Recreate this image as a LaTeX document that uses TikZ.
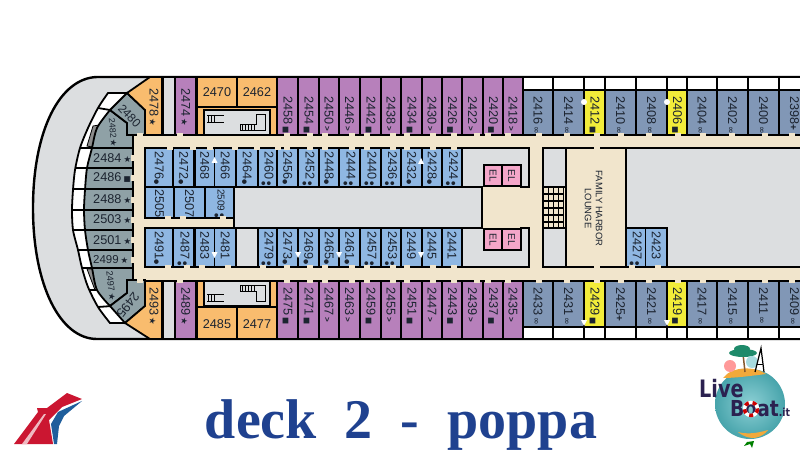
\documentclass[tikz,border=0pt]{standalone}
\usepackage{fontspec}
\setmainfont{Liberation Sans}
\newfontfamily\titlef{Liberation Serif}
\newfontfamily\symf{DejaVu Sans}
\newfontfamily\logof{DejaVu Sans}
\definecolor{ink}{HTML}{1C2430}
\definecolor{purp}{HTML}{B780BB}
\definecolor{orng}{HTML}{F9BC6E}
\definecolor{blu}{HTML}{8FB7E2}
\definecolor{slat}{HTML}{8197B6}
\definecolor{cgrey}{HTML}{8FA1A6}
\definecolor{yel}{HTML}{F2EC3A}
\definecolor{bge}{HTML}{F1E5CC}
\definecolor{gry}{HTML}{DCDEE0}
\definecolor{pnk}{HTML}{F4A6C9}
\definecolor{ttl}{HTML}{1F418F}
\newcommand\sS{\,{\symf\fontsize{8.5}{8.5}\selectfont ★}}
\newcommand\sB{\,{\symf\fontsize{7.5}{7.5}\selectfont ■}}
\newcommand\sD{{\symf\fontsize{6}{6}\selectfont ●}}
\newcommand\sDD{\,{\symf\fontsize{5}{5}\selectfont\rlap{\raisebox{3pt}{●}}\raisebox{-2.4pt}{●}}}
\newcommand\sI{\,{\symf\fontsize{9}{9}\selectfont ∞}}
\newcommand\sV{\,{\bfseries\fontsize{8}{8}\selectfont >}}
\newcommand\sP{{\bfseries\fontsize{10}{10}\selectfont +}}
\newcommand\sN{}
\tikzset{
  x=1pt,y=-1pt,
  wall/.style={draw=black,line width=1.8pt,line join=miter},
  thick wall/.style={draw=black,line width=2.4pt},
  vnum/.style={text=ink,inner sep=0pt,anchor=west,rotate=-90,font=\fontsize{12.7}{12.7}\selectfont},
  hnum/.style={text=ink,inner sep=0pt,font=\fontsize{12.7}{12.7}\selectfont},
  doorway/.style={fill=bge,draw=none,minimum width=6pt,minimum height=3.4pt,inner sep=0pt},
  sidedoor/.style={fill=bge,draw=none,minimum width=3.4pt,minimum height=6pt,inner sep=0pt},
  elbox/.style={wall,fill=pnk,text=ink,font=\fontsize{10}{10}\selectfont},
  stairline/.style={draw=black,line width=0.8pt}
}
\newcommand\cabin[8]{% x1 x2 y1 y2 fill ystart number symbol
  \path[wall,fill=#5] (#1,#3) rectangle (#2,#4);
  \node[vnum] (c#7) at ({(#1+#2)/2},#6) {#7#8};
}
\begin{document}
\begin{tikzpicture}
\useasboundingbox (0,0) rectangle (800,457);
\clip (0,0) rectangle (800,457);
\fill[white] (0,0) rectangle (800,457);
% hull
\path[thick wall,fill=gry] (810,77) -- (97,77) .. controls (60,78) and (33,130) .. (33,208) .. controls (33,285) and (60,339) .. (97,339) -- (810,339) -- cycle;
% deck base
\fill[bge] (133,135) rectangle (810,281);
% white balcony band
\path[wall,fill=white] (127,93) -- (108,93) -- plot[smooth] coordinates {(108,93)(98,108)(88,128)(80,148)(75,170)(73,190)(72,210)(73,230)(78,250)(82,268)(88,287)(98,307)(110,323)} -- (125,323) -- (127,300) -- cycle;
% hatched cells
\path[draw=black,line width=0.8pt,fill=black!45] (99,125) -- (93,126) -- (87,146) -- (92,147) -- cycle;
\path[draw=black,line width=0.8pt,fill=black!45] (87,269) -- (93,269) -- (100,289) -- (95,290) -- cycle;
% dividers in band
\foreach \ya/\xa/\xb in {148/80/92,168/75/87,189/73/85,210/72/84,230/73/85,250/78/87,268/82/92,290/89/97}{
  \draw[black,line width=1.8pt] (\xa,\ya) -- (\xb,\ya);
}
\draw[black,line width=1.8pt] (98,108) -- (110,110);
\draw[black,line width=1.8pt] (98,307) -- (112,306);
% grey stern cabins
\path[wall,fill=cgrey] plot[smooth] coordinates {(110,110)(97,128)(92,148)(87,168)(85,190)(84,210)(85,230)(88,250)(92,268)(97,290)(110,306)} -- (127,293) -- (127,280) -- (133,280) -- (133,135) -- (127,135) -- (127,123) -- cycle;
\foreach \ya/\xa in {148/92,168/87,189/85,210/84,230/85,250/88,268/92}{
  \draw[black,line width=1.8pt] (\xa,\ya) -- (133,\ya);
}
\path[wall,fill=cgrey] (127,93) -- (145,110) -- (145,135) -- (127,135) -- (127,123) -- (110,110) -- cycle;
\path[wall,fill=cgrey] (127,280) -- (145,280) -- (145,306) -- (125,323) -- (110,306) -- (127,293) -- cycle;
% orange corner cabins
\path[wall,fill=orng] (150,77) -- (162,77) -- (162,135) -- (145,135) -- (145,110) -- (127,93) -- cycle;
\path[wall,fill=orng] (145,281) -- (162,281) -- (162,339) -- (150,339) -- (125,323) -- (145,306) -- cycle;
\node[vnum] (c2478) at (154,88) {2478\sS};
\node[vnum] (c2493) at (154,287) {2493\sS};
% grey strips
\path[wall,fill=gry] (163,77) rectangle (175,135);
\path[wall,fill=gry] (163,281) rectangle (175,339);
% purple singles
\cabin{175.5}{196}{77}{135}{purp}{88}{2474}{\sS}
\cabin{175.5}{196}{281}{339}{purp}{287}{2489}{\sS}
% orange aft blocks
\path[wall,fill=orng] (197,77) rectangle (277,135);
\path[wall,fill=orng] (197,281) rectangle (277,339);
\draw[black,line width=1.8pt] (197,107) -- (277,107) (237,77) -- (237,107);
\draw[black,line width=1.8pt] (197,307) -- (277,307) (237,307) -- (237,339);
\node[hnum] (c2470) at (217,92) {2470};
\node[hnum] (c2462) at (257,92) {2462};
\node[hnum] (c2485) at (217,324) {2485};
\node[hnum] (c2477) at (257,324) {2477};
% stair rooms
\path[wall,fill=gry] (204,110) rectangle (270,135);
\path[wall,fill=gry] (204,281) rectangle (270,306);
\path[wall,fill=gry,line width=1pt] (256,115) -- (265,115) -- (265,131) -- (240,131) -- (240,125) -- (256,125) -- cycle;
\foreach \i in {242,245,...,254}{\draw[stairline,line width=.7pt] (\i,125) -- (\i,131);}
\path[stairline] (207,115) -- (224,115) (207,122) -- (224,122);
\foreach \i in {208,211,214}{\draw[stairline,line width=.7pt] (\i,115) -- (\i,122);}
\path[wall,fill=gry,line width=1pt] (256,301) -- (265,301) -- (265,285) -- (240,285) -- (240,291) -- (256,291) -- cycle;
\foreach \i in {242,245,...,254}{\draw[stairline,line width=.7pt] (\i,285) -- (\i,291);}
\path[stairline] (207,294) -- (224,294) (207,301) -- (224,301);
\foreach \i in {208,211,214}{\draw[stairline,line width=.7pt] (\i,294) -- (\i,301);}
% purple rows
\foreach \xa/\xb/\n/\s in {277/298/2458/\sB,298/319/2454/\sB,319/339/2450/\sV,339/360/2446/\sV,360/381/2442/\sB,381/401/2438/\sV,401/422/2434/\sB,422/442/2430/\sV,442/462/2426/\sB,462/483/2422/\sV,483/503/2420/\sB,503/523/2418/\sV}{
  \cabin{\xa}{\xb}{77}{135}{purp}{96}{\n}{\s}
}
\foreach \xa/\xb/\n/\s in {277/298/2475/\sB,298/319/2471/\sB,319/339/2467/\sV,339/360/2463/\sV,360/381/2459/\sB,381/401/2455/\sV,401/422/2451/\sB,422/442/2447/\sV,442/462/2443/\sB,462/483/2439/\sV,483/503/2437/\sB,503/523/2435/\sV}{
  \cabin{\xa}{\xb}{281}{339}{purp}{287}{\n}{\s}
}
% right rows
\foreach \xa/\xb in {523/553,553/584,584/605,605/636,636/667,667/687,687/717,717/748,748/779,779/810}{
  \path[wall,fill=white] (\xa,77) rectangle (\xb,90);
  \path[wall,fill=white] (\xa,327) rectangle (\xb,339);
}
\foreach \xa/\xb/\n/\s/\f in {523/553/2416/\sI/slat,553/584/2414/\sI/slat,584/605/2412/\sB/yel,605/636/2410/\sI/slat,636/667/2408/\sI/slat,667/687/2406/\sB/yel,687/717/2404/\sI/slat,717/748/2402/\sI/slat,748/779/2400/\sI/slat,779/810/2398/\sP/slat}{
  \cabin{\xa}{\xb}{90}{135}{\f}{96}{\n}{\s}
}
\foreach \xa/\xb/\n/\s/\f in {523/553/2433/\sI/slat,553/584/2431/\sI/slat,584/605/2429/\sB/yel,605/636/2425/\sP/slat,636/667/2421/\sI/slat,667/687/2419/\sB/yel,687/717/2417/\sI/slat,717/748/2415/\sI/slat,748/779/2411/\sI/slat,779/810/2409/\sI/slat}{
  \cabin{\xa}{\xb}{281}{327}{\f}{287}{\n}{\s}
}
% central lobby and grey voids
\path[wall,fill=gry] (234,187) rectangle (482,228);
\path[wall,fill=gry] (462,148) rectangle (529,187);
\path[wall,fill=gry] (462,228) rectangle (529,267);
\fill[bge] (483,187) rectangle (529,228);
\draw[black,line width=1.8pt] (529,148) -- (529,187) -- (520,187);
\draw[black,line width=1.8pt] (529,267) -- (529,228) -- (520,228);
\draw[black,line width=1.8pt] (482,187) -- (482,228);
\path[elbox] (484,165) rectangle (502,186);
\path[elbox] (502,165) rectangle (521,186);
\path[elbox] (484,229) rectangle (502,250);
\path[elbox] (502,229) rectangle (521,250);
\node[elbox,draw=none,rotate=-90,inner sep=0pt] (e1) at (493,175.5) {EL};
\node[elbox,draw=none,rotate=-90,inner sep=0pt] (e2) at (511.5,175.5) {EL};
\node[elbox,draw=none,rotate=-90,inner sep=0pt] (e3) at (493,239.5) {EL};
\node[elbox,draw=none,rotate=-90,inner sep=0pt] (e4) at (511.5,239.5) {EL};
% inner blue upper
\foreach \xa/\xb/\n/\s in {145/173/2476/\sD,173/194/2472/\sD,195/214.5/2468/\sN,214.5/236/2466/\sN,236/258/2464/\sD,258/277/2460/\sDD,277/298/2456/\sD,298/319/2452/\sDD,319/339/2448/\sD,339/360/2444/\sDD,360/381/2440/\sDD,381/401/2436/\sDD,401/422/2432/\sD,422/442/2428/\sD,442/462/2424/\sDD}{
  \cabin{\xa}{\xb}{148}{187}{blu}{151}{\n}{\s}
}
\foreach \xa/\xb/\n/\s in {145/174/2505/\sN,174/205/2507/\sN}{
  \cabin{\xa}{\xb}{187}{218}{blu}{189}{\n}{\s}
}
\path[wall,fill=blu] (205,187) rectangle (234,218);
\node[vnum,font=\fontsize{10}{10}\selectfont] (c2509) at (219.5,189) {2509\sDD};
\foreach \xa/\xb/\n/\s in {145/173/2491/\sD,173/194/2487/\sDD,195/214.5/2483/\sN,214.5/236/2481/\sN,258/277/2479/\sDD,277/298/2473/\sD,298/319/2469/\sD,319/339/2465/\sD,339/360/2461/\sD,360/381/2457/\sDD,381/401/2453/\sDD,401/422/2449/\sN,422/442/2445/\sN,442/462/2441/\sN}{
  \cabin{\xa}{\xb}{228}{267}{blu}{231}{\n}{\s}
}
\path[wall,fill=gry] (236,228) rectangle (258,267);
% right void
\path[wall,fill=gry] (626,148) -- (810,148) -- (810,267) -- (626,267) -- cycle;
\cabin{626}{645.5}{228}{267}{blu}{231}{2427}{\sDD}
\cabin{645.5}{667}{228}{267}{blu}{231}{2423}{\sN}
% service blocks, stairs, lounge
\path[wall,fill=gry] (543,148) rectangle (566,187);
\path[wall,fill=gry] (543,228) rectangle (566,267);
\path[wall,fill=bge] (566,148) rectangle (625.5,267);
\draw[black,line width=1.8pt] (543,187) -- (543,228);
\foreach \i in {548,553,558,563}{\draw[stairline] (\i,188) -- (\i,228);}
\foreach \i in {194,201,208,215,222}{\draw[stairline,line width=1.1pt] (543,\i) -- (564,\i);}
\node[text=ink,inner sep=0pt,rotate=-90,font=\fontsize{9.4}{9.4}\selectfont] (fam) at (599,208.5) {FAMILY HARBOR};
\node[text=ink,inner sep=0pt,rotate=-90,font=\fontsize{9.4}{9.4}\selectfont] (lng) at (588,208.5) {LOUNGE};
% stern labels
\node[hnum,anchor=west] (c2484) at (93,158) {2484\sS};
\node[hnum,anchor=west] (c2486) at (93,178) {2486\sB};
\node[hnum,anchor=west] (c2488) at (93,199) {2488\sS};
\node[hnum,anchor=west] (c2503) at (93,219) {2503\sS};
\node[hnum,anchor=west] (c2501) at (93,240) {2501\sS};
\node[hnum,anchor=west,font=\fontsize{11.5}{11.5}\selectfont] (c2499) at (93,259.5) {2499\sS};
\node[hnum,rotate=-47,font=\fontsize{12}{12}\selectfont] (c2480) at (129.5,116) {2480};
\node[hnum,rotate=-86,font=\fontsize{8.8}{8.8}\selectfont] (c2482) at (113,133) {2482\sS};
\node[hnum,rotate=-84,font=\fontsize{9.2}{9.2}\selectfont] (c2497) at (111,286) {2497\sS};
\node[hnum,rotate=-128] (c2495) at (128,305) {2495};
% doors
\foreach \xa in {140,180,287,310,325,352,367,393,407,433,454,477,488,508,539,567,597,621,649,678,703,732,765,792}{
  \node[doorway] at (\xa,135) {};
  \node[doorway] at (\xa,281) {};
}
\foreach \xa in {170,193,210,235,257,278,287,310,325,352,367,393,407,433,454,597}{\node[doorway] at (\xa,148) {};}
\foreach \xa in {168,187,202,228,263,287,310,325,352,367,393,407,433,454,597,632,658}{\node[doorway] at (\xa,267) {};}
\foreach \xa in {168,183,223}{\node[doorway] at (\xa,218) {};}
\foreach \ya in {158,178,200,220,240,260}{\node[sidedoor] at (133,\ya) {};}
% connecting markers
\foreach \xa/\ya in {214.5/160,421/161}{\fill[white] (\xa-3,\ya+3) -- (\xa+3,\ya+3) -- (\xa,\ya-3) -- cycle;}
\foreach \xa/\ya in {214.5/255,298/255,339/255,421/255}{\fill[white] (\xa-3,\ya-3) -- (\xa+3,\ya-3) -- (\xa,\ya+3) -- cycle;}
\foreach \xa/\ya in {584/102,667/102}{\fill[white] (\xa,\ya) circle (3);}
\foreach \xa/\ya in {584/323,667/323}{\fill[white] (\xa-3,\ya-3) -- (\xa+3,\ya-3) -- (\xa,\ya+3) -- cycle;}
% title
\node[text=ttl,inner sep=0pt,anchor=base,font=\titlef\bfseries\fontsize{56}{56}\selectfont] (title) at (401,438) {deck\hspace{0.5em}2\hspace{0.5em}-\hspace{0.5em}poppa};
% Carnival funnel
\definecolor{cred}{HTML}{CB1631}
\definecolor{cblu}{HTML}{1F5E9C}
\fill[cblu] (82,401) -- (58,412) -- (51,424) -- (54,444) -- (57,444) -- (59,426) -- (64,416) -- cycle;
\fill[cred] (14,444) -- (38,412) -- (37,408) -- (47,408) -- (67,393) -- (82,399) -- (62,407) -- (49,420) -- (53,444) -- cycle;
\fill[white!70!cred] (22,444) -- (44,414) -- (46,414) -- (27,444) -- cycle;
% LiveBoat logo
\definecolor{gteal}{HTML}{4FB6BE}
\definecolor{lgreen}{HTML}{1E8A6A}
\definecolor{lorng}{HTML}{F2A93B}
\definecolor{lnavy}{HTML}{2B2150}
\shade[inner color=gteal!65!white,outer color=gteal!90!black] (750,404) circle (35);
\fill[lorng] (723,378) .. controls (732,366) and (755,366) .. (766,374) .. controls (750,376) and (735,378) .. (723,378) -- cycle;
\fill[lorng] (738,432) .. controls (750,442) and (762,438) .. (768,430) .. controls (755,434) and (745,434) .. (738,432) -- cycle;
\draw[brown!70!black,line width=1.5pt] (745,372) -- (743,354);
\fill[lgreen] (743,353) ellipse (14 and 4);
\fill[lgreen] (742,349) ellipse (8 and 4);
\fill[pink!80!red] (730,366) circle (6);
\fill[gteal!50!white] (752,362) circle (6);
\draw[black,line width=1.2pt] (755,372) -- (761,348) -- (764,372);
\draw[black,line width=.8pt] (757,364) -- (763,364);
\fill[green!50!black] (747,442) -- (744,446) -- (750,444) -- (752,448) -- (754,441) -- cycle;
\node[text=lnavy,inner sep=0pt,anchor=base west,font=\logof\bfseries\fontsize{24}{24}\selectfont] (live) at (699,397) {\scalebox{0.8}[1]{Live}};
\node[text=lnavy,inner sep=0pt,anchor=base west,font=\logof\bfseries\fontsize{22}{22}\selectfont] (boat) at (730,416) {\scalebox{0.85}[1]{Boat\fontsize{11}{11}\selectfont.it}};
\draw[line width=3.5pt,white] (751,409) circle (6.5);
\draw[line width=3.5pt,red!80!black,dash pattern=on 4pt off 4pt] (751,409) circle (6.5);
\end{tikzpicture}
\end{document}
